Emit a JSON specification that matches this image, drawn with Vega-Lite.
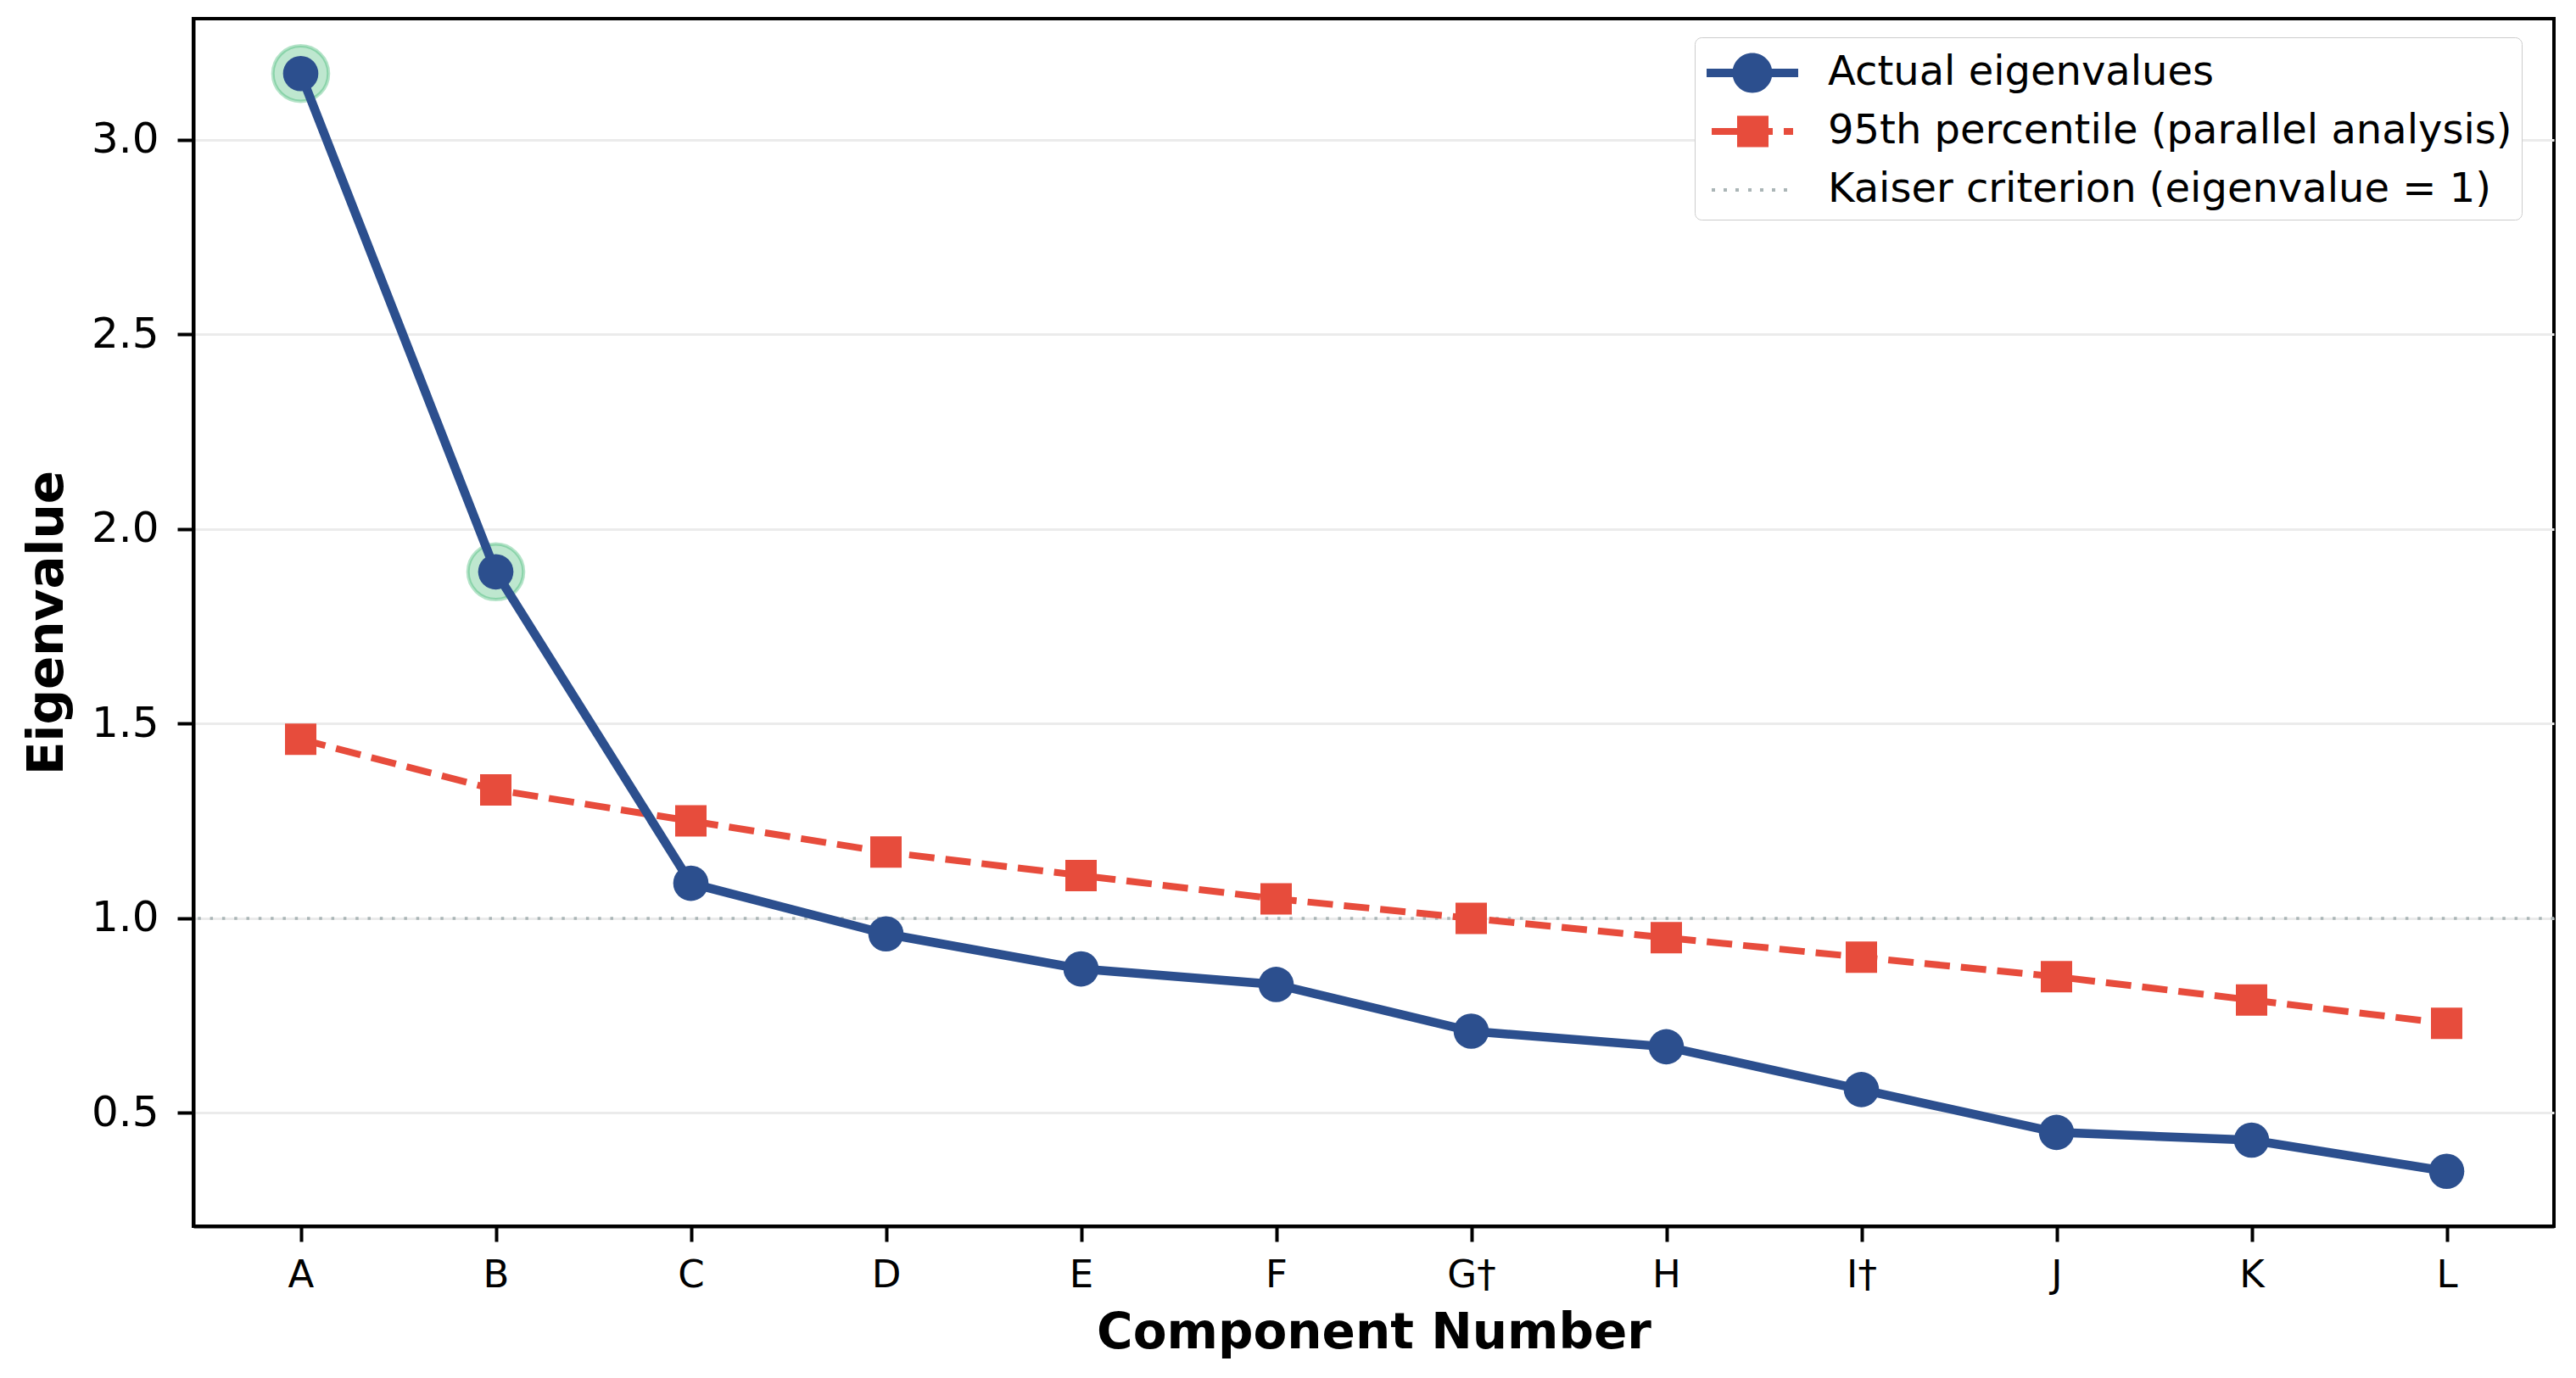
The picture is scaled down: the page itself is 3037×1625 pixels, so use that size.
{
  "$schema": "https://vega.github.io/schema/vega-lite/v6.json",
  "width": 2783,
  "height": 1424,
  "autosize": "none",
  "padding": {"left": 228, "top": 22, "right": 26, "bottom": 179},
  "background": "white",
  "config": {
    "font": "DejaVu Sans",
    "view": {"stroke": "black", "strokeWidth": 4},
    "axis": {
      "labelColor": "black",
      "titleColor": "black",
      "titleFontSize": 58,
      "titleFontWeight": "bold",
      "tickColor": "black",
      "tickWidth": 4,
      "domainColor": "black",
      "domainWidth": 4
    }
  },
  "datasets": {
    "eigen": [
      {"component": "A", "series": "Actual eigenvalues", "eigenvalue": 3.17, "retained": true},
      {"component": "B", "series": "Actual eigenvalues", "eigenvalue": 1.89, "retained": true},
      {"component": "C", "series": "Actual eigenvalues", "eigenvalue": 1.09, "retained": false},
      {"component": "D", "series": "Actual eigenvalues", "eigenvalue": 0.96, "retained": false},
      {"component": "E", "series": "Actual eigenvalues", "eigenvalue": 0.87, "retained": false},
      {"component": "F", "series": "Actual eigenvalues", "eigenvalue": 0.83, "retained": false},
      {"component": "G†", "series": "Actual eigenvalues", "eigenvalue": 0.71, "retained": false},
      {"component": "H", "series": "Actual eigenvalues", "eigenvalue": 0.67, "retained": false},
      {"component": "I†", "series": "Actual eigenvalues", "eigenvalue": 0.56, "retained": false},
      {"component": "J", "series": "Actual eigenvalues", "eigenvalue": 0.45, "retained": false},
      {"component": "K", "series": "Actual eigenvalues", "eigenvalue": 0.43, "retained": false},
      {"component": "L", "series": "Actual eigenvalues", "eigenvalue": 0.35, "retained": false},
      {"component": "A", "series": "95th percentile (parallel analysis)", "eigenvalue": 1.46, "retained": false},
      {"component": "B", "series": "95th percentile (parallel analysis)", "eigenvalue": 1.33, "retained": false},
      {"component": "C", "series": "95th percentile (parallel analysis)", "eigenvalue": 1.25, "retained": false},
      {"component": "D", "series": "95th percentile (parallel analysis)", "eigenvalue": 1.17, "retained": false},
      {"component": "E", "series": "95th percentile (parallel analysis)", "eigenvalue": 1.11, "retained": false},
      {"component": "F", "series": "95th percentile (parallel analysis)", "eigenvalue": 1.05, "retained": false},
      {"component": "G†", "series": "95th percentile (parallel analysis)", "eigenvalue": 1.0, "retained": false},
      {"component": "H", "series": "95th percentile (parallel analysis)", "eigenvalue": 0.95, "retained": false},
      {"component": "I†", "series": "95th percentile (parallel analysis)", "eigenvalue": 0.9, "retained": false},
      {"component": "J", "series": "95th percentile (parallel analysis)", "eigenvalue": 0.85, "retained": false},
      {"component": "K", "series": "95th percentile (parallel analysis)", "eigenvalue": 0.79, "retained": false},
      {"component": "L", "series": "95th percentile (parallel analysis)", "eigenvalue": 0.73, "retained": false}
    ],
    "kaiser": [
      {"series": "Kaiser criterion (eigenvalue = 1)", "eigenvalue": 1}
    ]
  },
  "data": {"name": "eigen"},
  "encoding": {
    "y": {
      "field": "eigenvalue",
      "type": "quantitative",
      "scale": {"domain": [0.209, 3.311], "nice": false, "zero": false},
      "axis": {
        "title": "Eigenvalue",
        "values": [0.5, 1, 1.5, 2, 2.5, 3],
        "format": ".1f",
        "labelFontSize": 50,
        "labelPadding": 22,
        "tickSize": 19,
        "titlePadding": 22,
        "grid": true,
        "gridColor": "#ebebeb",
        "gridWidth": 3
      }
    }
  },
  "layer": [
    {
      "data": {"name": "kaiser"},
      "mark": {"type": "rule", "strokeWidth": 3.5, "strokeDash": [3.5, 10.8], "opacity": 1},
      "encoding": {
        "color": {"field": "series", "type": "nominal"}
      }
    },
    {
      "transform": [{"filter": "datum.retained"}],
      "mark": {"type": "point", "shape": "circle", "filled": true, "fill": "#27ae60", "fillOpacity": 0.3, "stroke": "#27ae60", "strokeOpacity": 0.35, "strokeWidth": 4, "size": 4301, "opacity": 1},
      "encoding": {
        "x": {"field": "component", "type": "ordinal"}
      }
    },
    {
      "transform": [{"filter": "datum.series === '95th percentile (parallel analysis)'"}],
      "mark": {"type": "line", "strokeWidth": 8, "strokeDash": [30, 13]},
      "encoding": {
        "x": {"field": "component", "type": "ordinal"},
        "color": {"field": "series", "type": "nominal"}
      }
    },
    {
      "transform": [{"filter": "datum.series === '95th percentile (parallel analysis)'"}],
      "mark": {"type": "point", "shape": "square", "filled": true, "size": 1369, "opacity": 1},
      "encoding": {
        "x": {"field": "component", "type": "ordinal"},
        "color": {"field": "series", "type": "nominal"}
      }
    },
    {
      "transform": [{"filter": "datum.series === 'Actual eigenvalues'"}],
      "mark": {"type": "line", "strokeWidth": 10.5},
      "encoding": {
        "x": {"field": "component", "type": "ordinal"},
        "color": {"field": "series", "type": "nominal"}
      }
    },
    {
      "transform": [{"filter": "datum.series === 'Actual eigenvalues'"}],
      "mark": {"type": "point", "shape": "circle", "filled": true, "size": 1735, "opacity": 1},
      "encoding": {
        "x": {
          "field": "component",
          "type": "ordinal",
          "scale": {"type": "point", "padding": 0.55, "domain": ["A", "B", "C", "D", "E", "F", "G†", "H", "I†", "J", "K", "L"]},
          "axis": {
            "title": "Component Number",
            "labelAngle": 0,
            "labelAlign": "center",
            "labelBaseline": "top",
            "labelFontSize": 45,
            "labelPadding": 17,
            "tickSize": 18,
            "titlePadding": 17,
            "grid": false
          }
        },
        "color": {"field": "series", "type": "nominal"}
      }
    },
    {
      "mark": {"type": "point", "filled": true, "opacity": 0, "size": 1},
      "encoding": {
        "x": {"field": "component", "type": "ordinal"},
        "color": {
          "field": "series",
          "type": "nominal",
          "scale": {
            "domain": ["Actual eigenvalues", "95th percentile (parallel analysis)", "Kaiser criterion (eigenvalue = 1)"],
            "range": ["#2c4f8e", "#e74c3c", "#aab5b6"]
          },
          "legend": {
            "title": null,
            "orient": "none",
            "legendX": 1770,
            "legendY": 22,
            "padding": 11,
            "rowPadding": 14,
            "symbolSize": 3844,
            "symbolOffset": 3,
            "symbolOpacity": 1,
            "symbolStrokeWidth": 0,
            "labelOffset": 81,
            "labelFontSize": 48,
            "labelColor": "black",
            "labelLimit": 2000,
            "fillColor": "white",
            "strokeColor": "#cccccc",
            "cornerRadius": 8
          }
        },
        "shape": {
          "field": "series",
          "type": "nominal",
          "scale": {
            "domain": ["Actual eigenvalues", "95th percentile (parallel analysis)", "Kaiser criterion (eigenvalue = 1)"],
            "range": [
              "M -1 -0.161 L 0.05 -0.161 L 0.05 0.161 L -1 0.161 Z M 1.43 -0.161 L 2.484 -0.161 L 2.484 0.161 L 1.43 0.161 Z M -0.016 0 A 0.758 0.758 0 1 1 1.5 0 A 0.758 0.758 0 1 1 -0.016 0 Z",
              "M -0.806 -0.129 L 0.2 -0.129 L 0.2 0.129 L -0.806 0.129 Z M 0.161 -0.597 L 1.355 -0.597 L 1.355 0.597 L 0.161 0.597 Z M 1.3 -0.129 L 1.516 -0.129 L 1.516 0.129 L 1.3 0.129 Z M 1.935 -0.129 L 2.29 -0.129 L 2.29 0.129 L 1.935 0.129 Z",
              "M -0.806 -0.065 L -0.677 -0.065 L -0.677 0.065 L -0.806 0.065 Z M -0.355 -0.065 L -0.226 -0.065 L -0.226 0.065 L -0.355 0.065 Z M 0.097 -0.065 L 0.226 -0.065 L 0.226 0.065 L 0.097 0.065 Z M 0.581 -0.065 L 0.71 -0.065 L 0.71 0.065 L 0.581 0.065 Z M 1.032 -0.065 L 1.161 -0.065 L 1.161 0.065 L 1.032 0.065 Z M 1.484 -0.065 L 1.613 -0.065 L 1.613 0.065 L 1.484 0.065 Z M 1.935 -0.065 L 2.064 -0.065 L 2.064 0.065 L 1.935 0.065 Z"
            ]
          },
          "legend": {
            "title": null,
            "orient": "none",
            "legendX": 1770,
            "legendY": 22,
            "padding": 11,
            "rowPadding": 14,
            "symbolSize": 3844,
            "symbolOffset": 3,
            "symbolOpacity": 1,
            "symbolStrokeWidth": 0,
            "labelOffset": 81,
            "labelFontSize": 48,
            "labelColor": "black",
            "labelLimit": 2000,
            "fillColor": "white",
            "strokeColor": "#cccccc",
            "cornerRadius": 8
          }
        }
      }
    }
  ]
}
